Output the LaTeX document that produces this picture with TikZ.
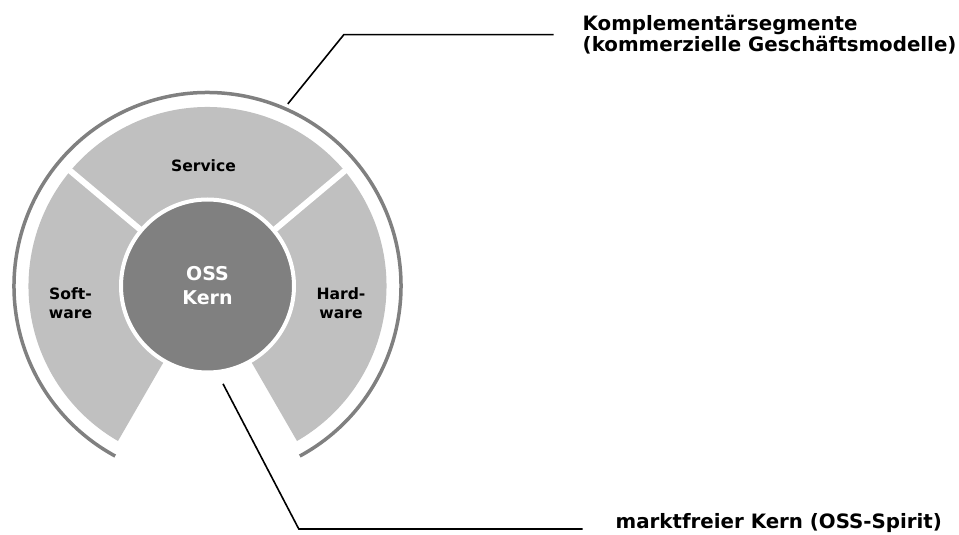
\documentclass[tikz,border=0pt]{standalone}
\usepackage{fontspec}
\setmainfont{DejaVu Sans}
\usepackage{tikz}
\usetikzlibrary{positioning}

\definecolor{seggray}{HTML}{C0C0C0}
\definecolor{kerngray}{HTML}{808080}

\begin{document}
\begin{tikzpicture}[x=1pt,y=1pt,
    seglabel/.style={font=\bfseries\fontsize{15.6}{18.5}\selectfont,align=center,inner sep=0pt},
    leader/.style={draw=black,line width=1.6pt},
    leadlabel/.style={font=\bfseries\fontsize{19.8}{20.5}\selectfont,align=left,anchor=west,inner sep=0pt}]
	\useasboundingbox (-207.5,-249) rectangle (751.5,286);
	% segments around the core
	\fill[seggray] (-60:80) -- (-60:179) arc (-60:240:179) -- (240:80) arc (240:-60:80) -- cycle;
	\foreach \a in {40,140}
		\draw[white,line width=6pt] (\a:78) -- (\a:183);
	\draw[kerngray,line width=3.5pt] (-61.5:193.5) arc (-61.5:241.5:193.5);
	% core
	\node[circle,fill=kerngray,draw=white,line width=4pt,minimum size=173pt,
		text=white,font=\bfseries\fontsize{19}{24}\selectfont,align=center] (core) at (0,0) {OSS\\Kern};
	\node[seglabel] (service) at (-4,120) {Service};
	\node[seglabel] (software) at (-137,-17) {Soft-\\ware};
	\node[seglabel] (hardware) at (133.5,-17) {Hard-\\ware};
	% labels with leaders
	\node[leadlabel] (kompl) at (375,251.3) {Komplementärsegmente\\(kommerzielle Geschäftsmodelle)};
	\node[leadlabel,anchor=base west] (spirit) at (408,-242) {marktfreier Kern (OSS-Spirit)};
	\coordinate (ringtop) at (66.2:199);
	\coordinate (bendtop) at (136.3,251.3);
	\coordinate (kernpt) at (-81:99);
	\coordinate (bendbot) at (91.3,-243);
	\draw[leader] (ringtop) -- (bendtop) -- ([xshift=-29pt]kompl.west);
	\draw[leader] (kernpt) -- (bendbot) -- ([xshift=-33pt]bendbot -| spirit.west);
\end{tikzpicture}
\end{document}
